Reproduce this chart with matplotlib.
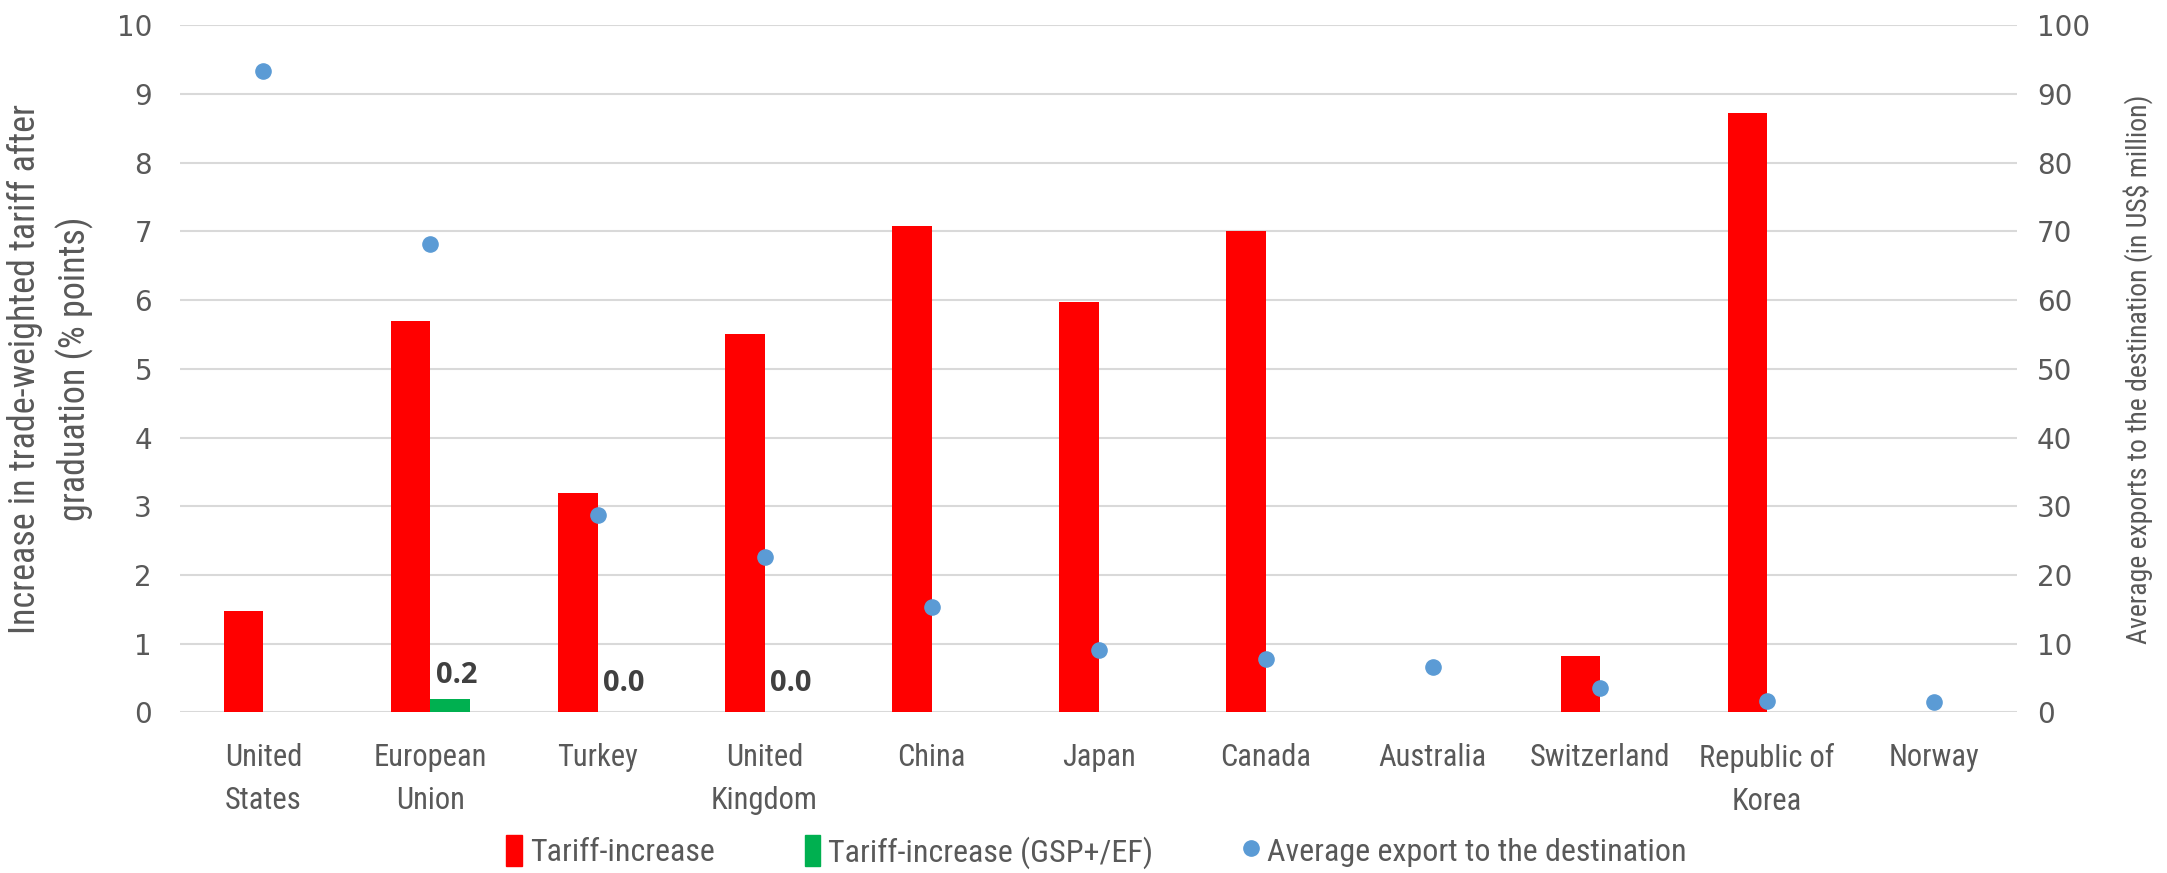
import numpy as np
import matplotlib
matplotlib.use('Agg')
import matplotlib.pyplot as plt
from matplotlib.lines import Line2D
from matplotlib.patches import Patch

countries = ['United\nStates', 'European\nUnion', 'Turkey', 'United\nKingdom', 'China', 'Japan',
             'Canada', 'Australia', 'Switzerland', 'Republic of\nKorea', 'Norway']
tariff = [1.47, 5.70, 3.20, 5.50, 7.08, 5.98, 7.00, 0.0, 0.82, 8.73, 0.0]
tariff_gsp = [np.nan, 0.2, 0.0, 0.0, np.nan, np.nan, np.nan, np.nan, np.nan, np.nan, np.nan]
exports = [93.4, 68.2, 28.7, 22.6, 15.4, 9.1, 7.7, 6.6, 3.5, 1.7, 1.5]

narrow = ['Liberation Sans Narrow', 'Roboto Condensed', 'DejaVu Sans']
grey = '#595959'

fig = plt.figure(figsize=(21.67, 8.73), dpi=100)
ax = fig.add_axes([0.083, 0.184, 0.848, 0.787])
ax2 = ax.twinx()

x = np.arange(len(countries))
w = 0.235
ax.bar(x - w / 2, tariff, w, color='#FF0000', zorder=3)
ax.bar(x + w / 2, tariff_gsp, w, color='#00B050', zorder=3)
for xi, v in zip(x, tariff_gsp):
    if not np.isnan(v):
        off = 6 if v > 0 else 10
        ax.annotate(f'{v:.1f}', (xi + w / 2 + 0.04, v), xytext=(0, off), textcoords='offset points',
                    ha='center', va='bottom', fontsize=21, fontweight='bold', color='#404040',
                    family=['Open Sans', 'DejaVu Sans'], zorder=4)

ax2.scatter(x, exports, s=120, color='#5B9BD5', zorder=4)

ax.set_xlim(-0.5, len(countries) - 0.5)
ax.set_ylim(0, 10)
ax2.set_ylim(0, 100)
ax.set_yticks(np.arange(0, 11, 1))
ax2.set_yticks(np.arange(0, 101, 10))
ax.yaxis.grid(True, color='#D9D9D9', linewidth=1.5, zorder=0)
ax.set_axisbelow(True)
for a in (ax, ax2):
    for s in a.spines.values():
        s.set_visible(False)
    a.tick_params(length=0, labelsize=20, labelcolor=grey)
    for lab in a.get_yticklabels():
        lab.set_family(['DejaVu Sans'])
ax.tick_params(axis='y', pad=20)
ax2.tick_params(axis='y', pad=14)

ax.set_xticks(x)
ax.set_xticklabels(countries, family=narrow, fontsize=22, color=grey, linespacing=1.6)
ax.tick_params(axis='x', pad=22)

ax.set_ylabel('Increase in trade-weighted tariff after\ngraduation (% points)', family=narrow,
              fontsize=26, color=grey, labelpad=16, linespacing=1.45)
ax2.set_ylabel('Average exports to the destination (in US\\$ million)', family=narrow,
               fontsize=20, color=grey, labelpad=24)

handles = [Patch(color='#FF0000'), Patch(color='#00B050'),
           Line2D([], [], marker='o', linestyle='', color='#5B9BD5', markersize=11)]
labels = ['Tariff-increase', 'Tariff-increase (GSP+/EF)', 'Average export to the destination']
fig.legend(handles, labels, loc='lower center', bbox_to_anchor=(0.506, -0.028), ncol=3,
           frameon=False, prop={'family': narrow, 'size': 23}, labelcolor=grey,
           columnspacing=2.8, handlelength=0.5, handleheight=1.1, handletextpad=0.25)

fig.savefig('out.png', dpi=100)
